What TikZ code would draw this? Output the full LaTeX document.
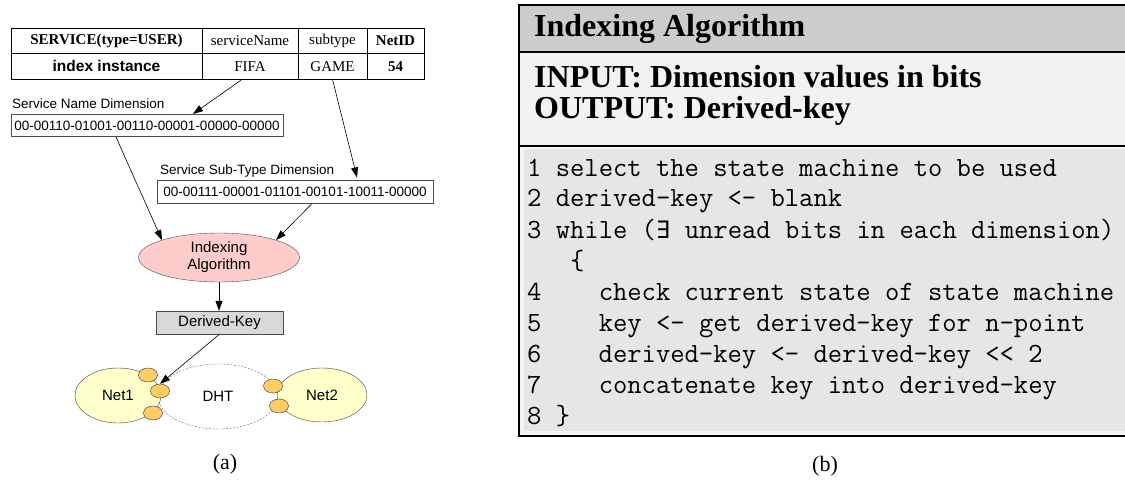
\documentclass[tikz,border=0pt]{standalone}
\usepackage{fontspec}
\setmainfont{Liberation Serif}
\setsansfont{Liberation Sans}
\newfontfamily\existsfont{DejaVu Sans Mono}
\usepackage{tikz}
\usetikzlibrary{shapes,arrows,positioning,calc,arrows.meta}
\definecolor{algoPink}{RGB}{255,204,204}
\definecolor{keyGray}{RGB}{217,217,217}
\definecolor{netYellow}{RGB}{255,255,204}
\definecolor{portOrange}{RGB}{255,204,102}
\definecolor{headGray}{RGB}{204,204,204}
\definecolor{ioGray}{RGB}{242,242,242}
\definecolor{codeEdge}{RGB}{244,244,244}
\definecolor{codeGray}{RGB}{230,230,230}

\begin{document}
\begin{tikzpicture}[x=1pt,y=-1pt,
                cell/.style={draw,line width=0.8pt,minimum height=25.5pt,inner sep=0pt,
                             font=\fontsize{15}{17}\selectfont},
                bitlabel/.style={anchor=base west,inner sep=0pt,font=\fontsize{13.5}{15}\selectfont\sffamily},
                bitbox/.style={draw=black!70,line width=0.6pt,minimum height=22.5pt,inner sep=0pt,
                               font=\fontsize{13.5}{15}\selectfont\sffamily},
                algo/.style={ellipse,draw=black!70,fill=algoPink,minimum width=161pt,minimum height=49pt,
                             inner sep=0pt,align=center,font=\fontsize{15}{17}\selectfont\sffamily},
                keybox/.style={draw=black!70,fill=keyGray,minimum width=127pt,minimum height=23pt,
                               inner sep=0pt,font=\fontsize{15}{17}\selectfont\sffamily},
                net/.style={ellipse,draw=black!75,fill=netYellow,minimum height=55pt,inner sep=0pt,
                            font=\fontsize{15}{17}\selectfont\sffamily},
                port/.style={ellipse,draw=black!80,fill=portOrange,minimum width=19pt,minimum height=14pt,inner sep=0pt},
                link/.style={-{Triangle[length=10pt,width=7pt]},line width=0.6pt},
                heading/.style={anchor=base west,inner sep=0pt,font=\fontsize{32}{34}\selectfont\bfseries},
                codeline/.style={anchor=base west,inner sep=0pt,font=\fontsize{27.8}{29}\selectfont\ttfamily},
                caption/.style={font=\fontsize{22}{24}\selectfont}
            ]
                \useasboundingbox (0,0) rectangle (1125,484);

                % (a) the table of the service
                \node[cell,minimum width=191pt,font=\fontsize{15}{17}\selectfont\bfseries] (svc) at (106.5,40.75) {SERVICE(type=USER)};
                \node[cell,minimum width=96pt] (sname) at (250,40.75) {serviceName};
                \node[cell,minimum width=69pt] (stype) at (332.5,40.75) {subtype};
                \node[cell,minimum width=57pt,font=\fontsize{15}{17}\selectfont\bfseries] (netid) at (395.5,40.75) {NetID};
                \node[cell,minimum width=191pt,font=\fontsize{15.5}{17}\selectfont\sffamily\bfseries] (inst) at (106.5,66.25) {index instance};
                \node[cell,minimum width=96pt] (fifa) at (250,66.25) {FIFA};
                \node[cell,minimum width=69pt] (game) at (332.5,66.25) {GAME};
                \node[cell,minimum width=57pt,font=\fontsize{15}{17}\selectfont\bfseries] (nid) at (395.5,66.25) {54};

                \node[bitlabel] (namelbl) at (12,109) {Service Name Dimension};
                \node[bitbox,minimum width=272pt] (namebox) at (147,125.5) {00-00110-01001-00110-00001-00000-00000};
                \node[bitlabel] (sublbl) at (160,175) {Service Sub-Type Dimension};
                \node[bitbox,minimum width=276pt] (subbox) at (295,192) {00-00111-00001-01101-00101-10011-00000};

                \node[algo] (algo) at (219,257.5) {Indexing\\Algorithm};
                \node[keybox] (dkey) at (219.5,322.5) {Derived-Key};

                % the DHT with two networks
                \node[ellipse,draw=black!60,dash pattern=on 2pt off 1.5pt,minimum width=120pt,minimum height=65pt,
                      font=\fontsize{15}{17}\selectfont\sffamily] (dht) at (218,396.5) {DHT};
                \node[net,minimum width=86pt] (net1) at (118,395.5) {Net1};
                \node[net,minimum width=90pt,minimum height=54pt] (net2) at (322,395) {Net2};
                \node[port] (n1a) at (148,375) {};
                \node[port] (n1b) at (160,391) {};
                \node[port] (n1c) at (153,413) {};
                \node[port] (n2a) at (273,386) {};
                \node[port] (n2b) at (279,406) {};

                \draw[link] ([xshift=-8pt]fifa.south) -- ([xshift=46pt]namebox.north);
                \draw[link] (game.south) -- ([xshift=62pt,yshift=3pt]subbox.north);
                \draw[link] ([xshift=-31pt]namebox.south) -- (algo.north west);
                \draw[link] ([xshift=17pt]subbox.south) -- (algo.north east);
                \draw[link] (algo.south) -- (algo.south |- dkey.north);
                \draw[link] (dkey.south) -- (n1b.north);

                % (b) the algorithm box
                \fill[headGray] (519,5) rectangle (1135,52);
                \fill[ioGray] (519,52) rectangle (1135,146);
                \fill[codeEdge] (519,146) rectangle (1135,436);
                \fill[codeGray] (524,149) rectangle (1135,431);
                \draw[line width=2.5pt] (1135,5) -- (519,5) -- (519,436) -- (1135,436);
                \draw[line width=2.5pt] (519,52) -- (1135,52) (519,146) -- (1135,146);

                \node[heading] (title) at (534,37) {Indexing Algorithm};
                \node[heading] (input) at (534,88) {INPUT: Dimension values in bits};
                \node[heading] (output) at (534,119) {OUTPUT: Derived-key};

                \foreach \src [count=\i] in {
                    {1 select the state machine to be used},
                    {2 derived-key <- blank},
                    {3 while ({\existsfont\fontsize{24}{26}\selectfont ∃} unread bits in each dimension)},
                    {\phantom{xxx}\{},
                    {4\phantom{xxxx}check current state of state machine},
                    {5\phantom{xxxx}key <- get derived-key for n-point},
                    {6\phantom{xxxx}derived-key <- derived-key << 2},
                    {7\phantom{xxxx}concatenate key into derived-key},
                    {8 \}}}
                    \node[codeline] (code\i) at (527,145+31*\i) {\src};

                \node[caption] (capa) at (225,464) {(a)};
                \node[caption] (capb) at (825,466) {(b)};
            \end{tikzpicture}
\end{document}
